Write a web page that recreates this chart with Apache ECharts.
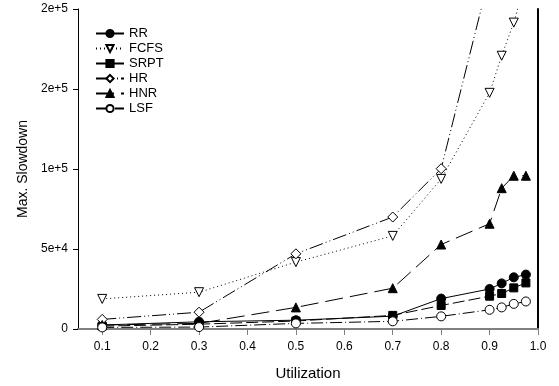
<!DOCTYPE html>
<html>
<head>
<meta charset="utf-8">
<script src="https://cdn.jsdelivr.net/npm/echarts@6/dist/echarts.min.js"></script>
<style>html,body{margin:0;padding:0;background:#fff;}#c{width:559px;height:386px;}</style>
</head>
<body>
<div id="c"></div>
<script>
var utilization = [0.1, 0.3, 0.5, 0.7, 0.8, 0.9, 0.925, 0.95, 0.975];
var xTicks = [0.1, 0.2, 0.3, 0.4, 0.5, 0.6, 0.7, 0.8, 0.9, 1.0];
var yTicks = [0, 50000, 100000, 150000, 200000];
var rr   = [2500, 4500, 5500, 8000, 19000, 25000, 28500, 32300, 34000];
var fcfs = [18800, 23000, 41800, 58200, 93800, 147600, 170800, 191500, 218000];
var srpt = [1800, 3000, 5000, 8500, 14700, 20500, 22200, 25700, 28800];
var hr   = [6000, 10500, 47000, 70000, 100200, 221000];
var hnr  = [2500, 3500, 13500, 25500, 52800, 65800, 88000, 95800, 95800];
var lsf  = [1000, 1200, 3500, 4800, 7900, 12000, 13500, 15700, 17200];

function pairs(vals) {
  return vals.map(function (v, i) { return [utilization[i], v]; });
}
var FONT = '"Liberation Sans", Arial, sans-serif';

function mk(name, vals, symbol, filled, dash, size, rot) {
  return {
    name: name, type: 'line', data: pairs(vals),
    symbol: symbol, symbolSize: size, symbolRotate: rot || 0,
    showAllSymbol: true, clip: true,
    itemStyle: { color: filled ? '#000' : '#fff', borderColor: '#000', borderWidth: 1 },
    lineStyle: { color: '#000', width: 1, type: dash },
    emphasis: { disabled: true },
    animation: false
  };
}

var chart = echarts.init(document.getElementById('c'));
chart.setOption({
  animation: false,
  grid: { left: 78, right: 21, top: 9, bottom: 55 },
  legend: {
    orient: 'vertical', left: 90, top: 22, itemWidth: 28, itemHeight: 9, itemGap: 2,
    textStyle: { fontSize: 13, fontFamily: FONT, color: '#000' },
    data: ['RR', 'FCFS', 'SRPT', 'HR', 'HNR', 'LSF']
  },
  xAxis: [{
    type: 'value', min: 0.05, max: 1.0, position: 'bottom',
    name: 'Utilization', nameLocation: 'middle', nameGap: 37,
    nameTextStyle: { fontSize: 15, fontFamily: FONT, color: '#000' },
    axisLine: { lineStyle: { color: '#808080', width: 2 } },
    axisTick: { show: true, length: 6, customValues: xTicks, lineStyle: { color: '#808080', width: 1 } },
    axisLabel: { customValues: xTicks, fontSize: 12, fontFamily: FONT, color: '#000', margin: 12,
      formatter: function (v) { return v.toFixed(1); } },
    splitLine: { show: false }
  }, {
    type: 'value', min: 0.05, max: 1.0, position: 'top',
    axisLine: { lineStyle: { color: '#808080', width: 2 } },
    axisTick: { show: false }, axisLabel: { show: false }, splitLine: { show: false }
  }],
  yAxis: [{
    type: 'value', min: 0, max: 200000, interval: 50000, position: 'left',
    name: 'Max. Slowdown', nameLocation: 'middle', nameGap: 48,
    nameTextStyle: { fontSize: 14, fontFamily: FONT, color: '#000' },
    axisLine: { show: true, lineStyle: { color: '#000', width: 1 } },
    axisTick: { show: true, length: 5, lineStyle: { color: '#000' } },
    axisLabel: { fontSize: 12, fontFamily: FONT, color: '#000', margin: 10,
      formatter: function (v) { return v === 0 ? '0' : v.toExponential(0); } },
    splitLine: { show: false }
  }, {
    type: 'value', min: 0, max: 200000, interval: 50000, position: 'right',
    axisLine: { show: true, lineStyle: { color: '#000', width: 2 } },
    axisTick: { show: false }, axisLabel: { show: false }, splitLine: { show: false }
  }],
  series: [
    mk('RR', rr, 'circle', true, 'solid', 9),
    mk('FCFS', fcfs, 'triangle', false, [1, 3], 9, 180),
    mk('SRPT', srpt, 'rect', true, [12, 4], 8),
    mk('HR', hr, 'diamond', false, [14, 3, 1, 3, 1, 3], 10),
    mk('HNR', hnr, 'triangle', true, [18, 7], 9),
    mk('LSF', lsf, 'circle', false, [12, 3, 1, 3], 9)
  ]
});
</script>
</body>
</html>
